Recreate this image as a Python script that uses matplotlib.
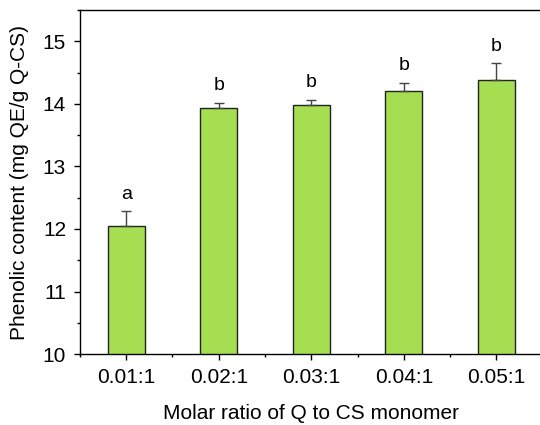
import matplotlib.pyplot as plt
from matplotlib.ticker import MultipleLocator
import numpy as np

plt.rcParams['font.family'] = ['Liberation Sans', 'DejaVu Sans']

ratios = ["0.01:1", "0.02:1", "0.03:1", "0.04:1", "0.05:1"]
phenolic = [12.05, 13.93, 13.98, 14.20, 14.39]
err = [0.24, 0.09, 0.09, 0.14, 0.26]
letters = ["a", "b", "b", "b", "b"]

fig = plt.figure(figsize=(5.4, 4.25), dpi=100)
ax = fig.add_axes([0.148, 0.167, 0.857, 0.809])

x = np.arange(len(ratios))
ax.bar(x, phenolic, width=0.4, bottom=0, color="#a6de52", edgecolor="#222222",
       linewidth=1.0, zorder=2)
ax.errorbar(x, phenolic, yerr=[np.zeros(len(err)), err], fmt="none",
            ecolor="#444444", elinewidth=1.0, capsize=3.5, capthick=1.0, zorder=3)

for xi, v, e, lab in zip(x, phenolic, err, letters):
    ax.annotate(lab, (xi, v + e), xytext=(0, 6), textcoords="offset points",
                ha="center", va="bottom", fontsize=14)

ax.set_xlim(-0.5, 4.5)
ax.set_ylim(10, 15.5)
ax.set_xticks(x)
ax.set_xticklabels(ratios)
ax.xaxis.set_minor_locator(MultipleLocator(0.5))
ax.yaxis.set_major_locator(MultipleLocator(1))
ax.yaxis.set_minor_locator(MultipleLocator(0.5))
ax.tick_params(which="major", direction="out", length=4, width=1, labelsize=15, pad=6)
ax.tick_params(which="minor", direction="out", length=2.5, width=1)
for s in ax.spines.values():
    s.set_linewidth(1.0)

ax.set_xlabel("Molar ratio of Q to CS monomer", fontsize=15, labelpad=12)
ax.set_ylabel("Phenolic content (mg QE/g Q-CS)", fontsize=15, labelpad=10)

fig.savefig("out.png", dpi=100)
